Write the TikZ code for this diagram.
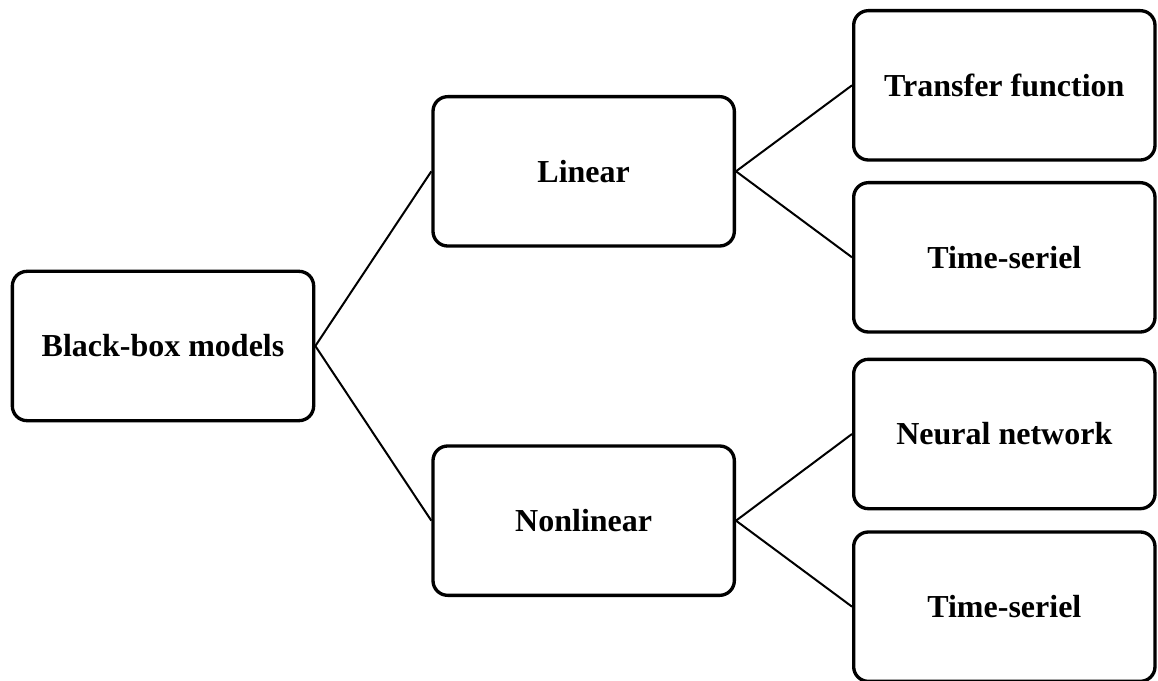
\documentclass[tikz,border=0pt]{standalone}
\usepackage{fontspec}
\setmainfont{Liberation Serif}
\usetikzlibrary{positioning}
\tikzset{
    model/.style={
        rectangle,
        rounded corners=11pt,
        line width=2.5pt,
        draw=black,
        fill=white,
        minimum width=226pt,
        minimum height=112pt,
        font=\fontsize{24}{28}\selectfont\bfseries,
    },
    branch/.style={
        line width=1.5pt,
        draw=black,
    },
}
\begin{document}
\begin{tikzpicture}[node distance=16.5pt and 87pt]
	    \useasboundingbox[x=0.75pt,y=-0.75pt] (0,0) rectangle (1158,681);
	    \node [model] (root) at (122.25pt,-259.5pt) {Black-box models};
	    \node [model] (lin) [above right=of root] {Linear};
	    \node [model] (nonlin) [below right=of root] {Nonlinear};
	    \node [model] (tf) [right=of lin, yshift=64.5pt] {Transfer function};
	    \node [model] (ts-lin) [right=of lin, yshift=-64.5pt] {Time-seriel};
	    \node [model] (nn) [right=of nonlin, yshift=65pt] {Neural network};
	    \node [model] (ts-nonlin) [right=of nonlin, yshift=-64.5pt] {Time-seriel};
	    \path[branch] (root.east) -- (lin.west);
	    \path[branch] (root.east) -- (nonlin.west);
	    \path[branch] (lin.east) -- (tf.west);
	    \path[branch] (lin.east) -- (ts-lin.west);
	    \path[branch] (nonlin.east) -- (nn.west);
	    \path[branch] (nonlin.east) -- (ts-nonlin.west);
	\end{tikzpicture}
\end{document}
